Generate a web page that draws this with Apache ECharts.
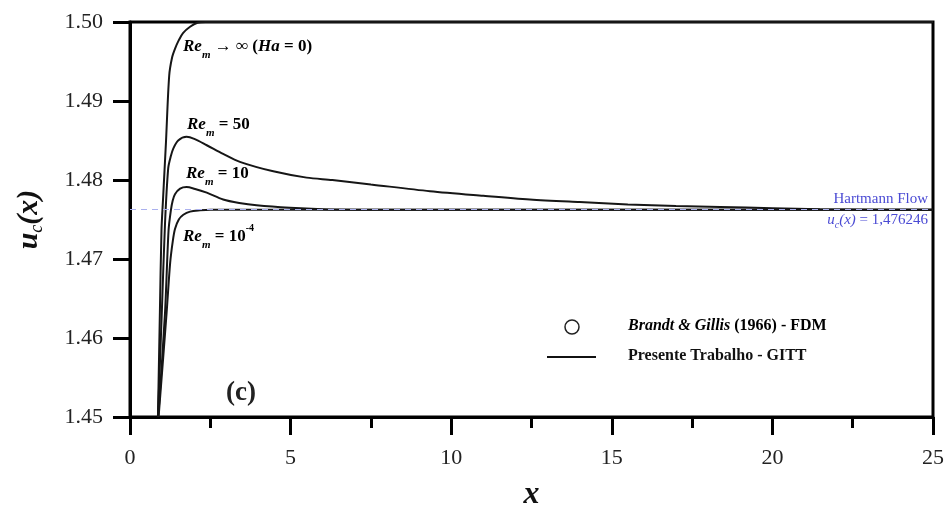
<!DOCTYPE html>
<html>
<head>
<meta charset="utf-8">
<script src="https://cdn.jsdelivr.net/npm/echarts@6/dist/echarts.min.js"></script>
<style>
  html, body { margin: 0; padding: 0; background: #fff; width: 948px; height: 516px; overflow: hidden; }
  #chart { position: absolute; left: 0; top: 0; width: 948px; height: 516px; }
</style>
</head>
<body>
<div id="chart"></div>
<script>
// Axis ticks
const xTicks = [0, 5, 10, 15, 20, 25];
const yTicks = [1.45, 1.46, 1.47, 1.48, 1.49, 1.50];

// Fully developed (Hartmann) centreline velocity
const hartmann = 1.476246;

// Centreline velocity u_c(x) for each magnetic Reynolds number: [x, u_c]
const reInf = [
  [0.87, 1.45], [0.93, 1.4632], [0.98, 1.4736], [1.03, 1.4777], [1.12, 1.4848],
  [1.22, 1.4932], [1.31, 1.4955], [1.40, 1.4966], [1.52, 1.4977], [1.65, 1.4986],
  [1.87, 1.4994], [2.10, 1.4999], [2.35, 1.5000], [25, 1.5000]
];
const re50 = [
  [0.87, 1.45], [0.99, 1.4632], [1.09, 1.4745], [1.19, 1.4815], [1.27, 1.4830],
  [1.35, 1.4840], [1.50, 1.4850], [1.76, 1.48546], [2.00, 1.4852], [2.39, 1.4844],
  [2.90, 1.4833], [3.42, 1.4823], [4.46, 1.4811], [5.50, 1.4803], [6.30, 1.4800],
  [7.50, 1.47944], [9.34, 1.47858], [11.0, 1.4780], [12.45, 1.47754], [14.0, 1.4772],
  [15.5, 1.4769], [17.0, 1.4767], [18.37, 1.47659], [20.0, 1.47642], [21.48, 1.47630],
  [23.0, 1.47625], [25, 1.47625]
];
const re10 = [
  [0.88, 1.45], [1.09, 1.4632], [1.20, 1.4736], [1.27, 1.4761], [1.33, 1.4774],
  [1.40, 1.4782], [1.56, 1.4789], [1.76, 1.4791], [2.00, 1.4789], [2.39, 1.4784],
  [2.90, 1.47754], [3.40, 1.4771], [3.94, 1.4768], [4.98, 1.47648], [6.00, 1.47630],
  [7.00, 1.47625], [25, 1.47625]
];
const reSmall = [
  [0.89, 1.45], [1.14, 1.4632], [1.25, 1.4695], [1.33, 1.4722], [1.40, 1.4738],
  [1.52, 1.4750], [1.66, 1.4756], [1.87, 1.4760], [2.18, 1.47616], [2.50, 1.47624],
  [25, 1.476246]
];

const serif = 'Liberation Serif';
const curveColor = '#161616';
const blue = '#4b4bd4';

// rich-text styles for the Re_m annotations (subscript / superscript)
const reRich = {
  r: { fontFamily: serif, fontStyle: 'italic', fontWeight: 'bold', fontSize: 17, lineHeight: 20, verticalAlign: 'middle', color: '#111' },
  m: { fontFamily: serif, fontStyle: 'italic', fontWeight: 'bold', fontSize: 11, lineHeight: 11, verticalAlign: 'bottom', color: '#111' },
  b: { fontFamily: serif, fontWeight: 'bold', fontSize: 17, lineHeight: 20, verticalAlign: 'middle', color: '#111' },
  e: { fontFamily: serif, fontWeight: 'bold', fontSize: 10, lineHeight: 10, verticalAlign: 'top', color: '#111' },
  pad: { fontSize: 17, lineHeight: 28, verticalAlign: 'middle' }
};

function curveLine(name, data, extra) {
  return Object.assign({
    name: name,
    type: 'line',
    data: data,
    showSymbol: false,
    symbol: 'none',
    smooth: 0.3,
    lineStyle: { color: curveColor, width: 2 },
    silent: true
  }, extra || {});
}

const chart = echarts.init(document.getElementById('chart'), null, { renderer: 'canvas', width: 948, height: 516 });

function reLabel(x, y, text) {
  return {
    type: 'text', left: x, top: y - 14, silent: true,
    style: { text: text, rich: reRich }
  };
}

chart.setOption({
  animation: false,
  backgroundColor: '#fff',
  grid: {
    left: 130, width: 803, top: 22, height: 400,
    show: true, borderColor: '#000', borderWidth: 3, backgroundColor: 'transparent'
  },
  xAxis: {
    type: 'value', min: xTicks[0], max: xTicks[xTicks.length - 1], interval: 5,
    name: 'x', nameLocation: 'middle', nameGap: 62,
    nameTextStyle: { fontFamily: serif, fontStyle: 'italic', fontWeight: 'bold', fontSize: 32, color: '#111' },
    axisLine: { show: true, onZero: false, lineStyle: { color: '#000', width: 3 } },
    axisTick: { show: true, inside: false, length: 18, lineStyle: { color: '#000', width: 3 } },
    minorTick: { show: true, splitNumber: 2, length: 11, lineStyle: { color: '#000', width: 3 } },
    splitLine: { show: false },
    axisLabel: { margin: 30, fontFamily: serif, fontSize: 22, color: '#222', formatter: v => String(v) }
  },
  yAxis: {
    type: 'value', min: yTicks[0], max: yTicks[yTicks.length - 1], interval: 0.01,
    name: '{a|u}{c|c}{a|(x)}', nameLocation: 'middle', nameGap: 84, nameRotate: 90,
    nameTextStyle: {
      rich: {
        a: { fontFamily: serif, fontStyle: 'italic', fontWeight: 'bold', fontSize: 30, lineHeight: 34, verticalAlign: 'middle', color: '#111' },
        c: { fontFamily: serif, fontStyle: 'italic', fontSize: 18, lineHeight: 16, verticalAlign: 'bottom', color: '#111' }
      }
    },
    axisLine: { show: true, onZero: false, lineStyle: { color: '#000', width: 3 } },
    axisTick: { show: true, inside: false, length: 17, lineStyle: { color: '#000', width: 3 } },
    splitLine: { show: false },
    axisLabel: { margin: 27, fontFamily: serif, fontSize: 22, color: '#222', formatter: v => v.toFixed(2) }
  },
  series: [
    curveLine('Re_m -> inf', reInf, {
      markLine: {
        silent: true, symbol: 'none', animation: false, precision: 6,
        lineStyle: { type: [6, 5], color: '#aab0ee', width: 1 },
        label: { show: false },
        data: [[
          { coord: [xTicks[0], hartmann] },
          { coord: [xTicks[xTicks.length - 1], hartmann] }
        ]]
      },
      z: 2
    }),
    curveLine('Re_m = 50', re50, { z: 3 }),
    curveLine('Re_m = 10', re10, { z: 3 }),
    curveLine('Re_m = 1e-4', reSmall, {
      z: 3,
      markPoint: {
        silent: true, symbol: 'circle', symbolSize: 0, animation: false,
        data: [{ coord: [xTicks[xTicks.length - 1], hartmann] }],
        label: {
          show: true, position: 'left', distance: 5, align: 'right',
          formatter: '{h|Hartmann Flow}\n{i|u}{s|c}{i|(x)}{h| = 1,476246}',
          rich: {
            h: { fontFamily: serif, fontSize: 15, lineHeight: 21, color: blue },
            i: { fontFamily: serif, fontStyle: 'italic', fontSize: 15, lineHeight: 21, color: blue },
            s: { fontFamily: serif, fontStyle: 'italic', fontSize: 10, lineHeight: 14, verticalAlign: 'bottom', color: blue }
          }
        }
      }
    })
  ],
  graphic: [
    reLabel(183, 52, '{r|Re}{m|m}{b| → ∞ (}{r|Ha}{b| = 0)}{pad|}'),
    reLabel(187, 130, '{r|Re}{m|m}{b| = 50}{pad|}'),
    reLabel(186, 179, '{r|Re}{m|m}{b| = 10}{pad|}'),
    reLabel(183, 237, '{r|Re}{m|m}{b| = 10}{e|-4}{pad|}'),
    {
      type: 'text', left: 226, top: 380, silent: true,
      style: { text: '(c)', fontFamily: serif, fontWeight: 'bold', fontSize: 27, fill: '#222' }
    },
    // legend
    {
      type: 'circle', silent: true, shape: { cx: 572, cy: 327, r: 7 },
      style: { fill: '#fff', stroke: '#222', lineWidth: 1.5 }
    },
    {
      type: 'text', left: 628, top: 318, silent: true,
      style: {
        text: '{bi|Brandt & Gillis}{b| (1966) - FDM}',
        rich: {
          bi: { fontFamily: serif, fontStyle: 'italic', fontWeight: 'bold', fontSize: 16, color: '#111' },
          b: { fontFamily: serif, fontWeight: 'bold', fontSize: 16, color: '#111' }
        }
      }
    },
    {
      type: 'line', silent: true, shape: { x1: 547, y1: 357, x2: 596, y2: 357 },
      style: { stroke: '#111', lineWidth: 2 }
    },
    {
      type: 'text', left: 628, top: 348, silent: true,
      style: { text: 'Presente Trabalho - GITT', fontFamily: serif, fontWeight: 'bold', fontSize: 16, fill: '#111' }
    }
  ]
});
</script>
</body>
</html>
